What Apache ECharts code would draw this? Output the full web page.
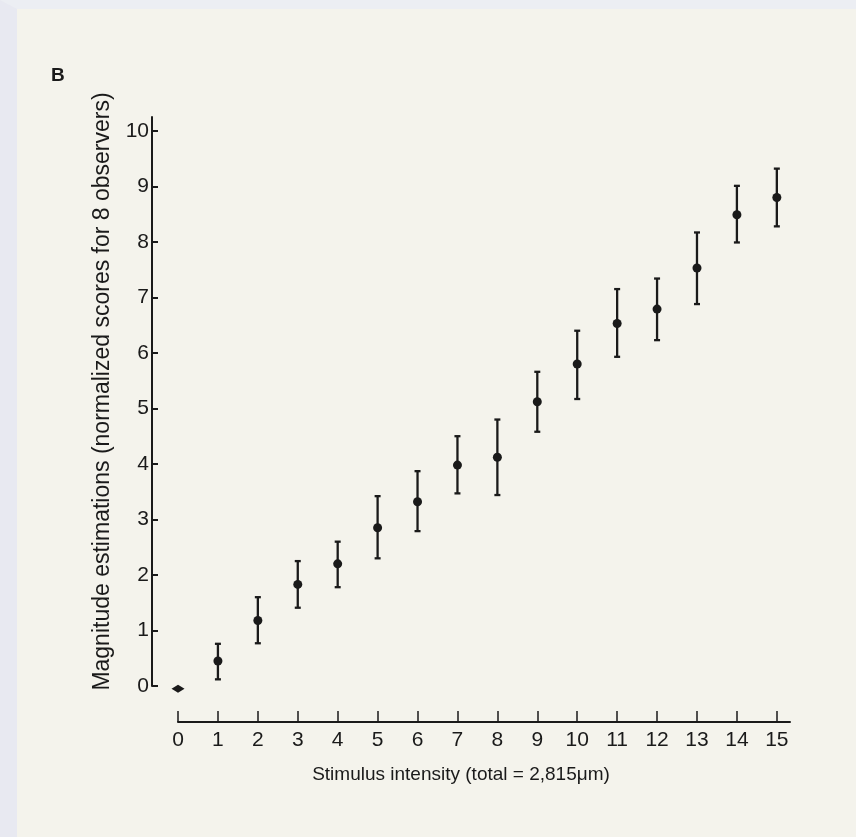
<!DOCTYPE html>
<html>
<head>
<meta charset="utf-8">
<script src="https://cdn.jsdelivr.net/npm/echarts@6/dist/echarts.min.js"></script>
<style>
  html, body { margin: 0; padding: 0; width: 856px; height: 837px; overflow: hidden; }
  #bg { position: absolute; left: 0; top: 0; width: 856px; height: 837px; box-sizing: border-box;
        background: #f4f3ec; border-left: 17px solid #e8e9f1; border-top: 9px solid #eceef3; }
  #chart { position: absolute; left: 0; top: 0; width: 856px; height: 837px; }
</style>
</head>
<body>
<div id="bg"></div>
<div id="chart"></div>
<script>
// Stimulus intensity categories (x)
const intensity = [0, 1, 2, 3, 4, 5, 6, 7, 8, 9, 10, 11, 12, 13, 14, 15];
// Mean magnitude estimation (normalized scores for 8 observers)
const meanScore = [-0.05, 0.45, 1.18, 1.83, 2.20, 2.85, 3.32, 3.98, 4.12, 5.12, 5.80, 6.53, 6.79, 7.53, 8.49, 8.80];
// Error bar upper ends
const upperScore = [-0.05, 0.76, 1.60, 2.25, 2.60, 3.42, 3.87, 4.50, 4.80, 5.66, 6.40, 7.15, 7.34, 8.17, 9.01, 9.32];
// Error bar lower ends
const lowerScore = [-0.05, 0.12, 0.77, 1.41, 1.78, 2.30, 2.79, 3.47, 3.44, 4.58, 5.17, 5.93, 6.23, 6.88, 7.99, 8.28];
// Tick labels
const xTicks = [0, 1, 2, 3, 4, 5, 6, 7, 8, 9, 10, 11, 12, 13, 14, 15];
const yTicks = [0, 1, 2, 3, 4, 5, 6, 7, 8, 9, 10];

const ink = '#1a1a1a';
const sans = '"Liberation Sans", Arial, Helvetica, sans-serif';

const chart = echarts.init(document.getElementById('chart'), null, { renderer: 'canvas' });

const pointData = intensity.map((x, i) => [x, meanScore[i]]);
const barData = intensity.map((x, i) => [x, lowerScore[i], upperScore[i]]);

chart.setOption({
  backgroundColor: 'transparent',
  animation: false,
  title: [
    { text: 'B', left: 46, top: 61, textStyle: { fontSize: 19, fontWeight: 'bold', color: ink, fontFamily: sans } },
    { text: 'Stimulus intensity (total = 2,815\u03bcm)', left: 456, top: 760, textAlign: 'center',
      textStyle: { fontSize: 19, fontWeight: 'normal', color: ink, fontFamily: sans } }
  ],
  grid: { left: 178, top: 117, width: 612, height: 569, containLabel: false },
  xAxis: {
    type: 'value', min: 0, max: 15.33, offset: 36,
    axisLine: { show: true, onZero: false, lineStyle: { color: ink, width: 2 } },
    axisTick: { show: true, inside: true, length: 11, customValues: xTicks, lineStyle: { color: ink, width: 1.5 } },
    axisLabel: { customValues: xTicks, margin: 8, fontSize: 21, color: ink, fontFamily: sans },
    splitLine: { show: false }
  },
  yAxis: {
    type: 'value', min: 0, max: 10.25, offset: 26,
    name: 'Magnitude estimations (normalized scores for 8 observers)',
    nameLocation: 'middle', nameRotate: 90, nameGap: 38,
    nameTextStyle: { fontSize: 23, color: ink, fontFamily: sans, padding: [0, 0, 0, 20] },
    axisLine: { show: true, onZero: false, lineStyle: { color: ink, width: 2 } },
    axisTick: { show: true, inside: true, length: 6, customValues: yTicks, lineStyle: { color: ink, width: 2 } },
    axisLabel: { customValues: yTicks, margin: 3, fontSize: 21, color: ink, fontFamily: sans },
    splitLine: { show: false }
  },
  series: [
    {
      type: 'custom',
      clip: false,
      data: barData,
      renderItem: function (params, api) {
        const x = api.value(0), lo = api.value(1), hi = api.value(2);
        if (hi - lo < 1e-6) return null;
        const pLo = api.coord([x, lo]);
        const pHi = api.coord([x, hi]);
        const cap = 3;
        const style = { stroke: ink, lineWidth: 2.3 };
        return {
          type: 'group',
          children: [
            { type: 'line', shape: { x1: pLo[0], y1: pLo[1], x2: pHi[0], y2: pHi[1] }, style: style },
            { type: 'line', shape: { x1: pLo[0] - cap, y1: pLo[1], x2: pLo[0] + cap, y2: pLo[1] }, style: style },
            { type: 'line', shape: { x1: pHi[0] - cap, y1: pHi[1], x2: pHi[0] + cap, y2: pHi[1] }, style: style }
          ]
        };
      },
      z: 2
    },
    {
      type: 'scatter',
      clip: false,
      data: pointData,
      symbol: function (val, params) { return params.dataIndex === 0 ? 'diamond' : 'circle'; },
      symbolSize: function (val, params) { return params.dataIndex === 0 ? [13, 8] : 9; },
      itemStyle: { color: ink, opacity: 1 },
      z: 3
    }
  ]
});
</script>
</body>
</html>
